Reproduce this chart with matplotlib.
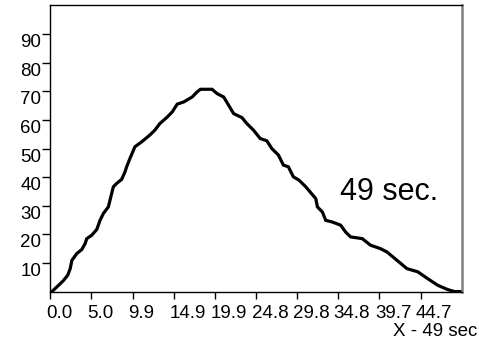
import matplotlib
matplotlib.use("Agg")
import matplotlib.pyplot as plt
import matplotlib.transforms as mtransforms

plt.rcParams['font.family'] = ['Liberation Sans', 'DejaVu Sans']

# data
times = [0.0, 0.2, 1.0, 1.6, 2.1, 2.4, 2.6, 3.2, 3.8, 4.2,
         4.4, 5.0, 5.6, 6.0, 6.4, 7.0, 7.4, 7.6, 8.0, 8.6,
         9.0, 9.2, 9.6, 10.2, 11.0, 12.0, 12.6, 13.2, 14.1, 14.7,
         15.3, 16.1, 17.1, 17.7, 18.1, 19.5, 20.1, 20.9, 21.5, 22.1,
         23.1, 23.7, 24.5, 25.3, 26.1, 26.7, 27.5, 28.1, 28.7, 29.3,
         30.0, 30.8, 32.0, 32.2, 32.8, 33.2, 34.0, 35.0, 35.6, 36.2,
         37.6, 38.6, 39.8, 40.6, 41.8, 43.0, 44.3, 45.5, 46.7, 47.9,
         48.7, 49.6]
values = [0, 0, 2.2, 3.9, 5.7, 8.0, 10.9, 13.3, 14.7, 16.8,
          18.5, 19.7, 21.7, 24.9, 27.3, 29.6, 34.3, 36.6, 37.8, 39.2,
          41.8, 43.6, 46.5, 50.6, 52.3, 54.7, 56.4, 58.7, 61.0, 62.8,
          65.5, 66.3, 68.0, 69.8, 70.7, 70.7, 69.2, 68.0, 65.1, 62.2,
          60.8, 58.7, 56.4, 53.5, 52.7, 50.0, 47.7, 44.2, 43.6, 40.1,
          38.9, 36.6, 32.5, 29.6, 27.8, 24.9, 24.3, 23.2, 20.8, 19.1,
          18.5, 16.2, 15.0, 13.8, 10.9, 8.0, 6.9, 4.5, 2.2, 0.7,
          0, 0]

x_span = 49.6
x_tick_labels = ['0.0', '5.0', '9.9', '14.9', '19.9', '24.8', '29.8', '34.8', '39.7', '44.7']
y_ticks = [10, 20, 30, 40, 50, 60, 70, 80, 90]
annotation = '49 sec.'
x_label = 'X - 49 sec'

fig = plt.figure(figsize=(4.79, 3.41), dpi=100)
ax = fig.add_axes([0.105, 0.145, 0.859, 0.839])

ax.plot(times, values, color='black', linewidth=2.3, solid_joinstyle='miter')

ax.set_xlim(0, x_span)
ax.set_ylim(0, 100)
ax.set_xticks([x_span * i / 10 for i in range(len(x_tick_labels))])
ax.set_xticklabels(x_tick_labels, ha='left')
ax.set_yticks(y_ticks)
ax.set_yticklabels([str(v) for v in y_ticks])

ax.tick_params(axis='x', direction='out', length=5, width=1, pad=4.5, labelsize=13.5)
ax.tick_params(axis='y', direction='out', length=6, width=1, pad=0.5, labelsize=13.5)

px = 1 / 100.0
for lbl in ax.get_xticklabels():
    lbl.set_transform(lbl.get_transform() +
                      mtransforms.ScaledTranslation(-4.5 * px, 0, fig.dpi_scale_trans))
for lbl in ax.get_yticklabels():
    lbl.set_transform(lbl.get_transform() +
                      mtransforms.ScaledTranslation(0, -6.5 * px, fig.dpi_scale_trans))

for s in ['left', 'bottom', 'top']:
    ax.spines[s].set_color('black')
    ax.spines[s].set_linewidth(1.0)
ax.spines['right'].set_color('#808080')
ax.spines['right'].set_linewidth(1.8)

ax.text(340 / 479, 1 - 200 / 341, annotation, transform=fig.transFigure,
        fontsize=22, ha='left', va='baseline')
fig.text(477 / 479, 1 - 335.5 / 341, x_label, fontsize=13.5,
         ha='right', va='baseline')

fig.savefig('out.png', dpi=100)
